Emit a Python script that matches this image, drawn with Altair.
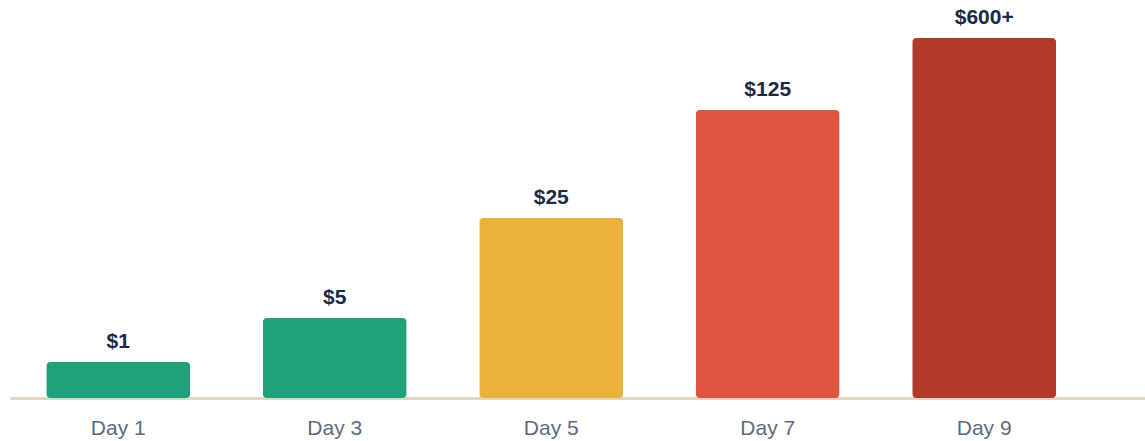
import altair as alt
import pandas as pd

days = ["Day 1", "Day 3", "Day 5", "Day 7", "Day 9"]
labels = ["$1", "$5", "$25", "$125", "$600+"]
heights = [10, 22.2, 50, 80, 100]
colors = ["#20A07B", "#20A07B", "#E8B23C", "#E0553F", "#B23A28"]

df = pd.DataFrame({"day": days, "label": labels, "h": heights, "color": colors})

x = alt.X("day:N", sort=days, title=None,
          scale=alt.Scale(paddingInner=0.335, paddingOuter=0.289, align=0.29),
          axis=alt.Axis(labelAngle=0, ticks=False, domainColor="#E0D8C6", domainWidth=3,
                        labelFont="Liberation Sans", labelFontSize=21, labelColor="#5E6B7C",
                        labelPadding=19, grid=False))
y = alt.Y("h:Q", scale=alt.Scale(domain=[0, 100], nice=False), axis=None)

bars = alt.Chart(df).mark_bar(cornerRadius=4).encode(
    x=x, y=y, color=alt.Color("color:N", scale=None)
)
text = alt.Chart(df).mark_text(
    baseline="alphabetic", dy=-14, font="Liberation Sans", fontSize=21,
    fontWeight="bold", color="#1B2A44"
).encode(x=alt.X("day:N", sort=days), y=y, text="label:N")

chart = (bars + text).properties(
    width=1135, height=360,
    background="white",
    autosize=alt.AutoSizeParams(type="none"),
    padding={"left": 10, "top": 38, "right": 0, "bottom": 43},
).configure_view(strokeWidth=0, stroke=None)

chart.save("out.html", embed_options={"renderer": "svg", "actions": False})
